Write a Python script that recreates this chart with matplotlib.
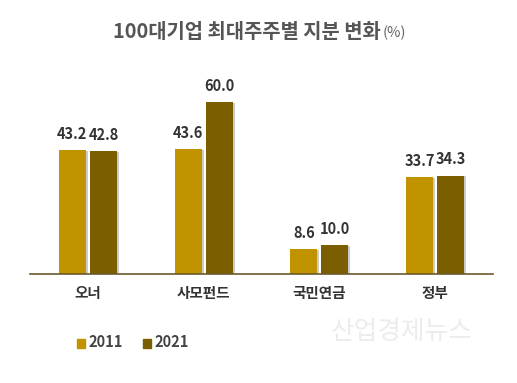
import matplotlib
matplotlib.use("Agg")
import matplotlib.pyplot as plt
import matplotlib.patheffects as pe
import numpy as np

plt.rcParams['font.family'] = ['Noto Sans CJK KR', 'DejaVu Sans']

categories = ["오너", "사모펀드", "국민연금", "정부"]
years = ["2011", "2021"]
values_2011 = [43.2, 43.6, 8.6, 33.7]
values_2021 = [42.8, 60.0, 10.0, 34.3]

c2011 = "#C29300"
c2021 = "#7B5E00"

W, H = 517, 383
fig = plt.figure(figsize=(W / 100, H / 100), dpi=100)
fig.patch.set_facecolor("white")

# axes placed in pixel terms: baseline at y=274, left 30, right 493
ax = fig.add_axes([30 / W, (H - 274) / H, (493 - 30) / W, (274 - 60) / H])
x = np.arange(len(categories))
w = 0.233
off = 0.134
shadow = [pe.SimplePatchShadow(offset=(1.5, -0.5), shadow_rgbFace="#999999", alpha=0.5), pe.Normal()]
b1 = ax.bar(x - off, values_2011, w, color=c2011, zorder=2, path_effects=shadow)
b2 = ax.bar(x + off, values_2021, w, color=c2021, zorder=2, path_effects=shadow)

for bars, vals in ((b1, values_2011), (b2, values_2021)):
    for r, v in zip(bars, vals):
        ax.annotate(f"{v:.1f}", (r.get_x() + r.get_width() / 2, v),
                    xytext=(0, 6), textcoords="offset points",
                    ha="center", va="bottom", fontsize=10.5, color="#333333",
                    fontweight="bold")

ax.set_xlim(-0.5, 3.5)
ax.set_ylim(0, 74.7)
for s in ["top", "right", "left"]:
    ax.spines[s].set_visible(False)
ax.spines["bottom"].set_color("#6b5a2a")
ax.spines["bottom"].set_linewidth(1.2)
ax.set_yticks([])
ax.set_xticks(x)
ax.set_xticklabels(categories, fontsize=10.5, color="#333333", fontweight="bold")
ax.tick_params(axis="x", length=0, pad=8)

# title
fig.text(113 / W, (H - 32) / H, "100대기업 최대주주별 지분 변화", ha="left", va="center",
         fontsize=14.3, fontweight="bold", color="#555555")
fig.text(383 / W, (H - 33) / H, "(%)", ha="left", va="center", fontsize=10.5, color="#666666")

# legend
for xs, lab, col in ((77, years[0], c2011), (143, years[1], c2021)):
    fig.patches.append(plt.Rectangle((xs / W, (H - 348) / H), 8 / W, 9 / H,
                                     transform=fig.transFigure, color=col))
    fig.text((xs + 11) / W, (H - 342) / H, lab, ha="left", va="center",
             fontsize=10.5, fontweight="bold", color="#444444")

# watermark
fig.text(402 / W, (H - 332) / H, "산업경제뉴스", ha="center", va="center",
         fontsize=18.5, color="#ececec")

fig.savefig("out.png", dpi=100, facecolor="white")
